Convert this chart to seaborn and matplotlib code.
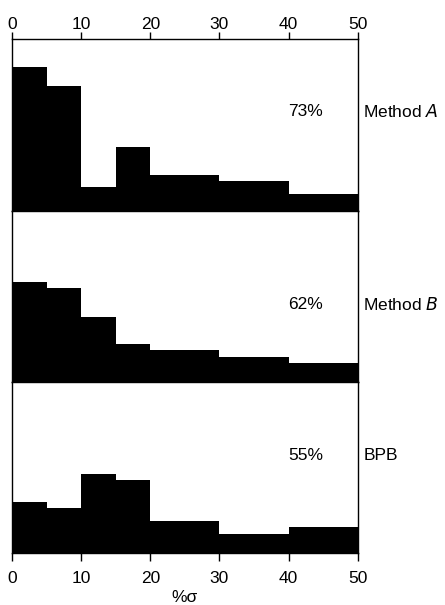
import matplotlib
matplotlib.use("Agg")
import matplotlib.pyplot as plt
import numpy as np
import seaborn as sns

# bin edges (% sigma) and bar heights (arbitrary units, panel = 100)
bin_edges = [0, 5, 10, 15, 20, 30, 40, 50]
method_a = [84, 72.5, 14, 37, 20.5, 17.5, 9.5]
method_b = [58.5, 54.5, 38, 22, 18.5, 14.5, 11]
bpb = [30, 26, 46, 42.5, 18.5, 11, 15]

panel_names = ["Method $\\it{A}$", "Method $\\it{B}$", "BPB"]
panel_pcts = ["73%", "62%", "55%"]
label_heights = [58, 45, 57]
x_ticks = [0, 10, 20, 30, 40, 50]

sns.set_style("white")
plt.rcParams["font.family"] = ["Liberation Sans", "DejaVu Sans"]
plt.rcParams["text.color"] = "black"
plt.rcParams["xtick.color"] = "black"
plt.rcParams["axes.labelcolor"] = "black"

fig = plt.figure(figsize=(4.45, 6.05), dpi=100)
left, width = 0.027, 0.777
panel_h = 0.283
bottoms = [0.086 + 2 * panel_h, 0.086 + panel_h, 0.086]

centers = [(a + b) / 2 for a, b in zip(bin_edges[:-1], bin_edges[1:])]
series = [method_a, method_b, bpb]
fs = 12.5

for i, (vals, name, pct, ly) in enumerate(zip(series, panel_names, panel_pcts, label_heights)):
    ax = fig.add_axes([left, bottoms[i], width, panel_h])
    sns.histplot(x=centers, weights=vals, bins=bin_edges, color="black",
                 edgecolor="black", linewidth=0, alpha=1, ax=ax)
    ax.set_xlim(0, 50)
    ax.set_ylim(0, 100)
    ax.set_ylabel("")
    ax.set_yticks([])
    ax.set_xticks(x_ticks)
    for sp in ax.spines.values():
        sp.set_visible(True)
        sp.set_color("black")
        sp.set_linewidth(1.0)
    ax.text(42.5, ly, pct, ha="center", va="center", fontsize=fs)
    ax.text(50.8, ly, name, ha="left", va="center", fontsize=fs)
    if i == 0:
        ax.tick_params(axis="x", which="both", top=True, bottom=False,
                       labeltop=True, labelbottom=False, direction="out",
                       length=5, width=1, labelsize=fs, pad=0.5)
        ax.set_xlabel("")
    elif i == 2:
        ax.tick_params(axis="x", which="both", top=False, bottom=True,
                       labeltop=False, labelbottom=True, direction="out",
                       length=6, width=1, labelsize=fs, pad=7)
        ax.set_xlabel("%σ", fontsize=fs, labelpad=3)
    else:
        ax.tick_params(axis="x", which="both", top=False, bottom=False,
                       labeltop=False, labelbottom=False)
        ax.set_xlabel("")

fig.savefig("out.png", dpi=100)
plt.close(fig)
